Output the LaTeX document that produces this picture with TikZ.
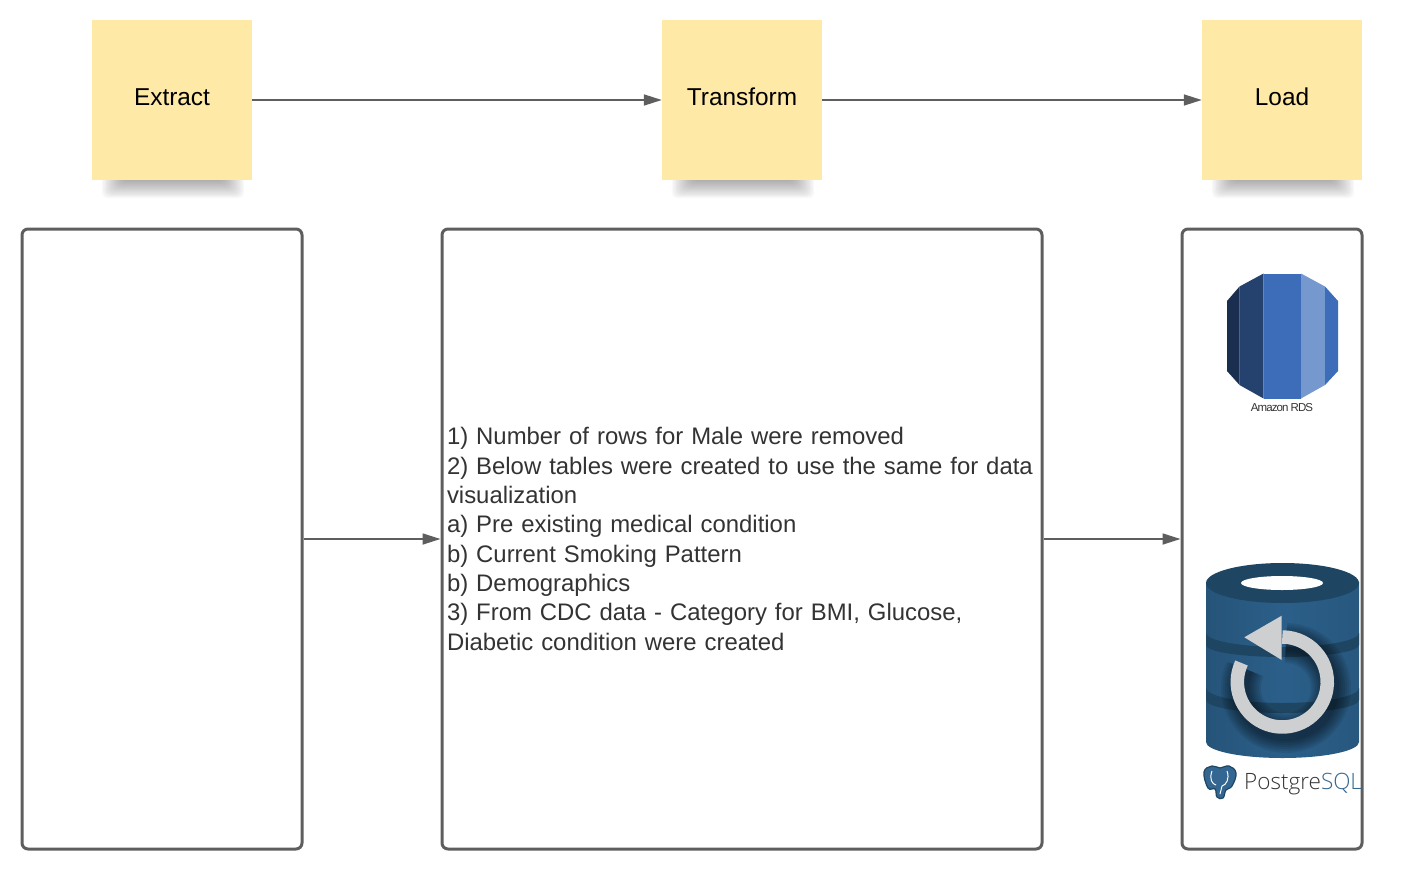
\documentclass[tikz,border=0pt]{standalone}
\usepackage{fontspec}
\setmainfont{Liberation Sans}
\newfontfamily\rdsfont[LetterSpace=-8]{Liberation Sans}
\newfontfamily\pgfont{Open Sans Light}
\usetikzlibrary{positioning,arrows.meta,backgrounds,calc}
\definecolor{uNote}{HTML}{FEE9A6}
\definecolor{uLine}{HTML}{5E5E5E}
\definecolor{uText}{HTML}{333333}
\definecolor{uRing}{HTML}{CDCFD1}
\definecolor{uDrum}{HTML}{2B5F89}
\definecolor{uDrumDark}{HTML}{1E4562}
\definecolor{uPg}{HTML}{336791}
\definecolor{uRdsA}{HTML}{1A2E4F}
\definecolor{uRdsB}{HTML}{25426F}
\definecolor{uRdsC}{HTML}{3D6DB8}
\definecolor{uRdsD}{HTML}{7598CF}
\tikzset{
  stickynote/.style={fill=uNote, minimum width=160pt, minimum height=160pt, inner sep=0pt},
  notelbl/.style={font=\fontsize{24.4}{29}\selectfont, text=black},
  panel/.style={draw=uLine, line width=3pt, rounded corners=6pt, inner sep=0pt,
              minimum height=620pt, fill=white},
  flow/.style={-{Triangle[length=18pt, width=11pt]}, draw=uLine, line width=1.7pt},
  steps/.style={font=\fontsize{23.9}{29.3}\selectfont, text=uText, align=left},
}

\begin{document}
\begin{tikzpicture}[x=1pt, y=1pt]
\useasboundingbox (0,0) rectangle (1421,-870);

%% ── top row ──
\node[stickynote] (extract)   at (172,-100)  {};
\node[stickynote] (transform) at (742,-100)  {};
\node[stickynote] (load)      at (1282,-100) {};
\node[notelbl] (extractlbl)   at (172,-97)  {Extract};
\node[notelbl] (transformlbl) at (742,-97)  {Transform};
\node[notelbl] (loadlbl)      at (1282,-97) {Load};

\draw[flow] (extract) -- (transform);
\draw[flow] (transform) -- (load);

% soft shadow under each note
\begin{scope}[on background layer]
\foreach \n in {extract,transform,load}
  \foreach \d in {0,...,15}
    \fill[black, opacity=.024, rounded corners=5pt]
      ($(\n.south west)+(10+1.4*\d,10)$) rectangle ($(\n.south east)+(-8-1.4*\d,-18+1.15*\d)$);
\end{scope}

%% ── panels ──
\node[panel, minimum width=280pt] (source) at (162,-539)  {};
\node[panel, minimum width=600pt, steps, text width=590pt] (clean) at (742,-539)
  {1) Number of rows for Male were removed\\
   2) Below tables were created to use the same for data\\
   visualization\\
   a) Pre existing medical condition\\
   b) Current Smoking Pattern\\
   b) Demographics\\
   3) From CDC data - Category for BMI, Glucose,\\
   Diabetic condition were created};
\node[panel, minimum width=180pt] (store) at (1272,-539) {};

\draw[flow] (source) -- (clean);
\draw[flow] (clean) -- (store);

%% ── RDS logo ──
\fill[uRdsA] (1227,-301) -- (1239.5,-286.5) -- (1239.5,-385) -- (1227,-371) -- cycle;
\fill[uRdsB] (1239.5,-286.5) -- (1263.5,-273.5) -- (1263.5,-398.5) -- (1239.5,-385) -- cycle;
\fill[uRdsC] (1263.5,-273.5) -- (1301,-273.5) -- (1301,-398.5) -- (1263.5,-398.5) -- cycle;
\fill[uRdsD] (1301,-273.5) -- (1325,-286.5) -- (1325,-385) -- (1301,-398.5) -- cycle;
\fill[uRdsC] (1325,-286.5) -- (1338,-301) -- (1338,-371) -- (1325,-385) -- cycle;
\node[font=\rdsfont\fontsize{11.5}{13}\selectfont, text=uText, inner sep=0pt] (rdslbl) at (1282,-408) {Amazon RDS};

%% ── backup drum ──
\shade[left color=uDrum!88!black, right color=uDrum!92!black, middle color=uDrum]
  (1206,-582) -- (1206,-742) arc[x radius=76.5, y radius=16, start angle=180, end angle=360]
  -- (1359,-582) -- cycle;
\fill[uDrumDark] (1206,-633) arc[x radius=76.5, y radius=14, start angle=180, end angle=360]
  -- (1359,-645) arc[x radius=76.5, y radius=12, start angle=360, end angle=180] -- cycle;
\fill[uDrumDark] (1206,-688) arc[x radius=76.5, y radius=15, start angle=180, end angle=360]
  -- (1359,-700) arc[x radius=76.5, y radius=13, start angle=360, end angle=180] -- cycle;
\fill[uDrumDark] (1282.5,-583) ellipse[x radius=76.5, y radius=20];
\fill[white] (1282,-583) ellipse[x radius=41, y radius=7];
% shadow of the ring
\begin{scope}
\clip (1206,-582) -- (1206,-742) arc[x radius=76.5, y radius=16, start angle=180, end angle=360] -- (1359,-582) -- cycle;
\foreach \d in {2,4,...,14}
  \draw[black, opacity=.08, line width=12pt+\d*2pt]
    (1286+45*cos 155,-688+45*sin 155) arc[radius=45, start angle=155, end angle=450];
\end{scope}
\draw[uRing, line width=13.5pt]
  (1282.3+45*cos 155,-682+45*sin 155) arc[radius=45, start angle=155, end angle=450];
\fill[uRing] (1244.3,-637.3) -- (1281.7,-615.7) -- (1281.7,-660) -- cycle;

%% ── postgres logo ──
\fill[uPg, draw=uDrumDark, line width=1.2pt] plot[smooth cycle, tension=.7] coordinates
  {(1204,-772) (1212,-766) (1220,-768) (1229,-766) (1236,-773) (1232,-786) (1226,-790)
   (1223,-798) (1217,-797) (1215,-789) (1208,-788)};
\draw[white, line width=1pt] (1212,-771) .. controls (1209,-779) and (1212,-784) .. (1216,-785);
\draw[white, line width=1pt] (1227,-771) .. controls (1230,-779) and (1226,-785) .. (1222,-786) -- (1220,-794);
\node[font=\pgfont\fontsize{22.5}{22}\selectfont, inner sep=0pt, anchor=west] (pglbl) at (1244,-784.5)
  {\textcolor{uText}{Postgre}\textcolor{uPg}{SQL}};

\end{tikzpicture}
\end{document}
